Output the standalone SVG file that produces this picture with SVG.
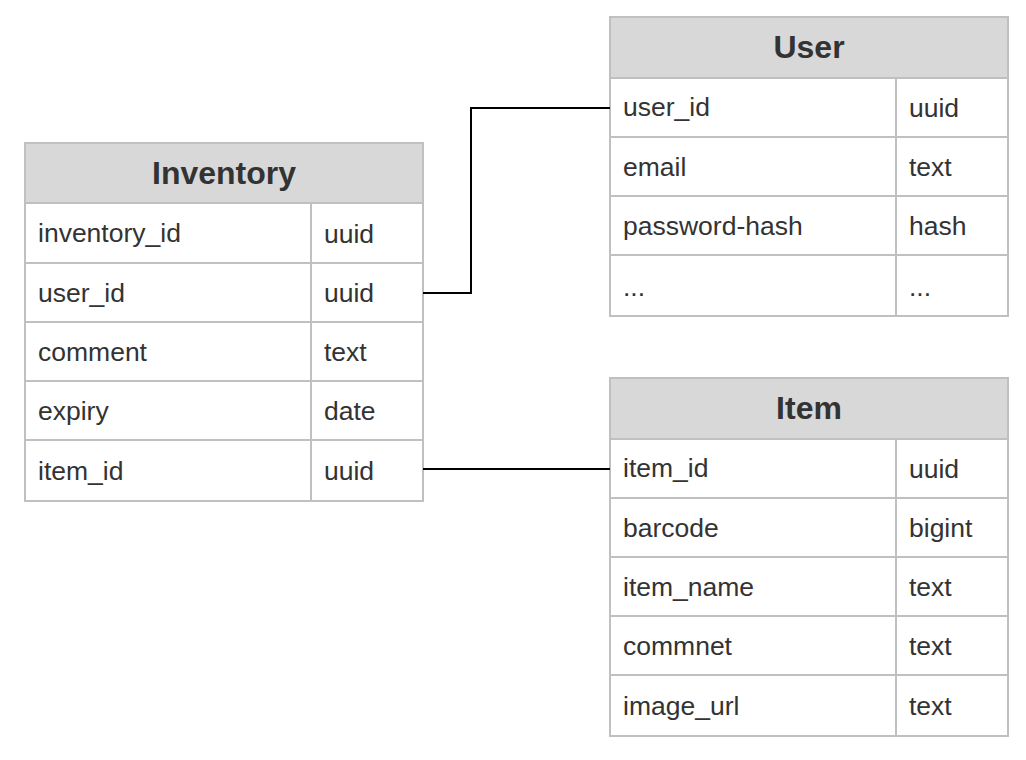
<svg xmlns="http://www.w3.org/2000/svg" width="1026" height="760" viewBox="0 0 1026 760">
<style>
.hdr{fill:#d8d8d8;stroke:#c0c0c0;stroke-width:2}
.cell{fill:#ffffff;stroke:#c0c0c0;stroke-width:2}
.title{font-family:"Liberation Sans",Arial,sans-serif;font-size:32px;font-weight:bold;fill:#333333;text-anchor:middle}
.txt{font-family:"Liberation Sans",Arial,sans-serif;font-size:26.5px;fill:#333333}
.conn{fill:none;stroke:#000000;stroke-width:2}
</style>
<rect width="1026" height="760" fill="#ffffff"/>
<g id="inventory">
<rect class="hdr" x="25" y="143" width="398" height="60"/>
<text class="title" x="224" y="184">Inventory</text>
<rect class="cell" x="25" y="203" width="286" height="60"/><rect class="cell" x="311" y="203" width="112" height="60"/>
<rect class="cell" x="25" y="263" width="286" height="59"/><rect class="cell" x="311" y="263" width="112" height="59"/>
<rect class="cell" x="25" y="322" width="286" height="59"/><rect class="cell" x="311" y="322" width="112" height="59"/>
<rect class="cell" x="25" y="381" width="286" height="59"/><rect class="cell" x="311" y="381" width="112" height="59"/>
<rect class="cell" x="25" y="440" width="286" height="61"/><rect class="cell" x="311" y="440" width="112" height="61"/>
<text class="txt" x="38" y="242">inventory_id</text><text class="txt" x="324" y="243">uuid</text>
<text class="txt" x="38" y="302">user_id</text><text class="txt" x="324" y="302">uuid</text>
<text class="txt" x="38" y="361">comment</text><text class="txt" x="324" y="361">text</text>
<text class="txt" x="38" y="420">expiry</text><text class="txt" x="324" y="420">date</text>
<text class="txt" x="38" y="480">item_id</text><text class="txt" x="324" y="480">uuid</text>
</g>
<g id="user">
<rect class="hdr" x="610" y="17" width="398" height="61"/>
<text class="title" x="809" y="58">User</text>
<rect class="cell" x="610" y="78" width="286" height="59"/><rect class="cell" x="896" y="78" width="112" height="59"/>
<rect class="cell" x="610" y="137" width="286" height="59"/><rect class="cell" x="896" y="137" width="112" height="59"/>
<rect class="cell" x="610" y="196" width="286" height="59"/><rect class="cell" x="896" y="196" width="112" height="59"/>
<rect class="cell" x="610" y="255" width="286" height="61"/><rect class="cell" x="896" y="255" width="112" height="61"/>
<text class="txt" x="623" y="116">user_id</text><text class="txt" x="909" y="117">uuid</text>
<text class="txt" x="623" y="176">email</text><text class="txt" x="909" y="176">text</text>
<text class="txt" x="623" y="235">password-hash</text><text class="txt" x="909" y="235">hash</text>
<text class="txt" x="623" y="296">...</text><text class="txt" x="909" y="296">...</text>
</g>
<g id="item">
<rect class="hdr" x="610" y="378" width="398" height="61"/>
<text class="title" x="809" y="419">Item</text>
<rect class="cell" x="610" y="439" width="286" height="59"/><rect class="cell" x="896" y="439" width="112" height="59"/>
<rect class="cell" x="610" y="498" width="286" height="59"/><rect class="cell" x="896" y="498" width="112" height="59"/>
<rect class="cell" x="610" y="557" width="286" height="59"/><rect class="cell" x="896" y="557" width="112" height="59"/>
<rect class="cell" x="610" y="616" width="286" height="59"/><rect class="cell" x="896" y="616" width="112" height="59"/>
<rect class="cell" x="610" y="675" width="286" height="61"/><rect class="cell" x="896" y="675" width="112" height="61"/>
<text class="txt" x="623" y="477">item_id</text><text class="txt" x="909" y="478">uuid</text>
<text class="txt" x="623" y="537">barcode</text><text class="txt" x="909" y="537">bigint</text>
<text class="txt" x="623" y="596">item_name</text><text class="txt" x="909" y="596">text</text>
<text class="txt" x="623" y="655">commnet</text><text class="txt" x="909" y="655">text</text>
<text class="txt" x="623" y="715">image_url</text><text class="txt" x="909" y="715">text</text>
</g>
<g id="connectors">
<path class="conn" d="M423,293 H471 V108 H610"/>
<path class="conn" d="M423,469 H610"/>
</g>
</svg>
